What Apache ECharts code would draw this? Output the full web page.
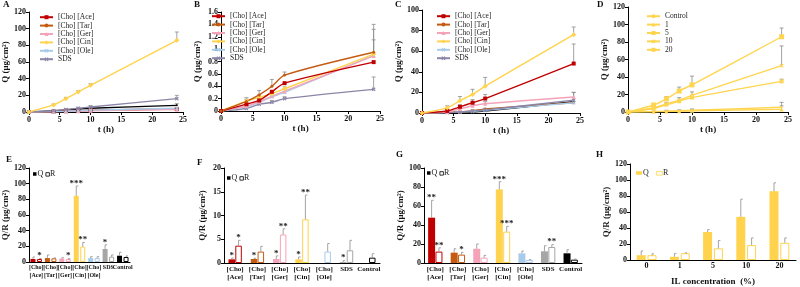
<!DOCTYPE html>
<html><head><meta charset="utf-8">
<script src="https://cdn.jsdelivr.net/npm/echarts@6/dist/echarts.min.js"></script>
<style>html,body{margin:0;padding:0;background:#fff}#c{width:800px;height:287px}</style>
</head><body><div id="c"></div>
<script>
// ---------- DATA ----------
const times = [0, 4, 6, 8, 10, 24];
const ilNames = ['[Cho] [Ace]', '[Cho] [Tar]', '[Cho] [Ger]', '[Cho] [Cin]', '[Cho] [Ole]', 'SDS'];
const concNames = ['Control', '1', '5', '10', '20'];
const barCats = ['[Cho]\n[Ace]', '[Cho]\n[Tar]', '[Cho]\n[Ger]', '[Cho]\n[Cin]', '[Cho]\n[Ole]', 'SDS', 'Control'];
const hCats = ['0', '1', '5', '10', '20'];

// Panel A
const aAce = [0, 0.5, 1, 1.5, 2, 3.5];
const aTar = [0, 0.5, 1, 1.5, 2, 4];
const aGer = [0, 0.3, 0.6, 1, 1.5, 3];
const aCin = [0, 8.5, 16, 24, 32, 86];
const aOle = [0, 0.5, 1, 1.5, 2.2, 4.5];
const aSds = [0, 1.5, 3, 4.5, 6, 16];
const aCtrl = [0, 1.5, 2.5, 3.5, 4.5, 8];
const aCinErr = [0, 1, 1.5, 1.5, 2, 10];
const aSdsErr = [0, 0.5, 1, 1, 1.5, 4];
const aCtrlErr = [0, 0.3, 0.5, 0.5, 1, 2];
// Panel B
const bAce = [0, 0.11, 0.17, 0.31, 0.45, 0.79];
const bTar = [0, 0.155, 0.26, 0.40, 0.58, 0.95];
const bGer = [0, 0.08, 0.15, 0.24, 0.32, 0.89];
const bCin = [0, 0.16, 0.22, 0.28, 0.36, 0.92];
const bOle = [0, 0.07, 0.14, 0.23, 0.30, 0.90];
const bSds = [0, 0.04, 0.11, 0.14, 0.20, 0.35];
const bTarErr = [0, 0.06, 0.07, 0.11, 0.05, 0.45];
const bCinErr = [0, 0.03, 0.04, 0.05, 0.03, 0.40];
const bGerErr = [0, 0.02, 0.03, 0.04, 0.03, 0.26];
const bSdsErr = [0, 0.02, 0.03, 0.03, 0.03, 0.20];
// Panel C
const cAce = [0, 2, 6, 10, 14, 48];
const cTar = [0, 0.5, 1, 2, 4, 10];
const cGer = [0, 1, 4, 7, 9, 15.5];
const cCin = [0, 5, 12, 18, 26, 76];
const cOle = [0, 0.5, 1, 1.5, 2.5, 10];
const cSds = [0, 0.5, 1, 2, 3, 12.5];
const cCtrl = [0, 0.3, 0.6, 1, 2, 11];
const cAceErr = [0, 1, 2, 3, 4, 19];
const cCinErr = [0, 2, 4, 5, 8.6, 7.5];
const cGerErr = [0, 0.5, 1, 1.5, 2, 4.5];
const cSdsErr = [0, 0.3, 0.5, 1, 1.5, 7.5];
// Panel D
const dCtrl = [0, 0.5, 1, 1.5, 2, 5.5];
const d1 = [0, 0.3, 0.5, 1, 1.5, 3];
const d5 = [0, 4, 8.5, 12.3, 16.5, 35];
const d10 = [0, 5, 9, 13.4, 19, 53];
const d20 = [0, 8, 15, 24, 31, 86];
const dCtrlErr = [0, 0.5, 1, 1, 1.5, 5.5];
const d1Err = [0, 0.3, 0.5, 0.5, 1, 4];
const d5Err = [0, 0.5, 1, 1, 1.5, 2.5];
const d10Err = [0, 1, 2, 3, 4, 22.5];
const d20Err = [0, 1.5, 2.5, 4.5, 10, 10];
// Panel E
const eQ = [3.8, 5, 4.3, 84.5, 5, 16.6, 8];
const eQerr = [2.6, 4, 1.2, 12.5, 1.8, 5.4, 4.4];
const eR = [3.8, 4.7, 3.8, 19.6, 5, 6.8, 6.4];
const eRerr = [0.6, 0.5, 0.5, 5.4, 1.8, 2.2, 1.3];
const eQstar = ['', '', '', '***', '', '*', ''];
const eRstar = ['*', '', '*', '**', '', '', ''];
// Panel F
const fQ = [0.77, 0.84, 0.84, 0.77, 0, 0.2, 0];
const fQerr = [0.28, 0.16, 0.66, 0.49, 0, 0.3, 0];
const fR = [3.65, 2.4, 6.0, 9.2, 2.4, 2.67, 1.12];
const fRerr = [1.12, 1.1, 1.2, 5.1, 1.7, 2.1, 0.84];
const fQstar = ['*', '*', '*', '*', '', '*', ''];
const fRstar = ['*', '', '**', '**', '', '', ''];
// Panel G
const gQ = [47.7, 10.9, 15, 77.5, 10.2, 12.3, 10.2];
const gQerr = [18.3, 4.1, 5, 8.1, 2.4, 5.9, 3.8];
const gR = [12, 8.8, 5.6, 33, 3.2, 16.8, 3.5];
const gRerr = [4, 2.4, 2.4, 5.6, 0.3, 2.5, 0.7];
const gQstar = ['**', '', '', '***', '', '', ''];
const gRstar = ['**', '*', '', '***', '', '**', ''];
// Panel H
const hQ = [6, 4, 35, 54, 86];
const hQerr = [5.3, 4, 3, 22, 10.5];
const hR = [6, 8.5, 14.6, 18.6, 21.5];
const hRerr = [1.7, 0.5, 9.7, 9, 6.1];

// ---------- STYLE ----------
const FONT = '"Liberation Serif","Times New Roman",serif';
const C_ACE = '#c00000', C_TAR = '#c55a11', C_GER = '#f4a3b8', C_CIN = '#ffd34d',
      C_OLE = '#a9cbea', C_SDSL = '#8a86a8', C_SDSB = '#a6a6a6', C_CTRL = '#000000', C_D = '#ffd54f';
const barCols = [C_ACE, C_TAR, C_GER, C_CIN, C_OLE, C_SDSB, C_CTRL];
const hCols = [C_CIN, C_CIN, C_CIN, C_CIN, C_CIN];
const ERR = '#8c8c8c';

const grids = [
  {left: 27, top: 12, width: 156, height: 100},
  {left: 221, top: 12, width: 159, height: 99},
  {left: 422, top: 10, width: 158, height: 103},
  {left: 628, top: 7, width: 160, height: 105},
  {left: 29, top: 168, width: 101, height: 94},
  {left: 224, top: 168, width: 156, height: 95},
  {left: 424, top: 168, width: 158, height: 95},
  {left: 630, top: 164, width: 166, height: 99}
];

const lblStyle = {fontFamily: FONT, fontWeight: 'bold', fontSize: 8, color: '#111'};
const nameStyle = {fontFamily: FONT, fontWeight: 'bold', fontSize: 9, color: '#111'};
const axLine = {show: true, lineStyle: {color: '#000', width: 1}};

const xAxes = [], yAxes = [];
const yMax = [120, 1.6, 100, 120, 120, 20, 100, 120];
const yInt = [20, 0.2, 20, 20, 20, 5, 20, 20];
const catFont = [0, 0, 0, 0, 6, 7, 7, 8];
for (let g = 0; g < 8; g++) {
  if (g < 4) {
    xAxes.push({gridIndex: g, type: 'value', min: 0, max: 25, interval: 5,
      axisLine: axLine, axisTick: {show: true, length: 3, lineStyle: {color: '#000'}},
      axisLabel: Object.assign({margin: 4}, lblStyle), splitLine: {show: false},
      name: 't (h)', nameLocation: 'middle', nameGap: 13, nameTextStyle: nameStyle});
  } else {
    xAxes.push({gridIndex: g, type: 'category', data: g === 7 ? hCats : barCats,
      axisLine: axLine, axisTick: {show: false},
      axisLabel: Object.assign({margin: 2, interval: 0, lineHeight: g === 4 ? 7.5 : 8}, lblStyle, {fontSize: catFont[g]}),
      name: g === 7 ? 'IL concentration  (%)' : '', nameLocation: 'middle', nameGap: 17, nameTextStyle: nameStyle});
  }
  yAxes.push({gridIndex: g, type: 'value', min: 0, max: yMax[g], interval: yInt[g],
    axisLine: axLine, axisTick: {show: true, length: 3, lineStyle: {color: '#000'}},
    axisLabel: Object.assign({margin: 3}, lblStyle), splitLine: {show: false},
    name: g < 4 ? 'Q (μg/cm²)' : 'Q/R (μg/cm²)', nameLocation: 'middle', nameRotate: 90,
    nameGap: g === 1 ? 19 : 17, nameTextStyle: nameStyle});
}

const XSYM = 'path://M2,0L5,3L8,0L10,2L7,5L10,8L8,10L5,7L2,10L0,8L3,5L0,2Z';
function lineS(g, name, arr, color, symbol, size) {
  return {type: 'line', name, xAxisIndex: g, yAxisIndex: g,
    data: times.map((t, i) => [t, arr[i]]), smooth: 0.25,
    symbol, symbolSize: size, showSymbol: true,
    lineStyle: {color, width: 1.4}, itemStyle: {color}, z: 3, animation: false};
}
function lineErr(g, arr, err) {
  return {type: 'custom', xAxisIndex: g, yAxisIndex: g, silent: true, animation: false, z: 2,
    data: times.map((t, i) => [t, arr[i], arr[i] + err[i]]),
    renderItem: (params, api) => {
      const i = params.dataIndex;
      if (!(err[i] > 0)) return null;
      const p0 = api.coord([times[i], arr[i]]);
      const p1 = api.coord([times[i], arr[i] + err[i]]);
      return {type: 'group', children: [
        {type: 'line', shape: {x1: p0[0], y1: p0[1], x2: p1[0], y2: p1[1]}, style: {stroke: ERR, lineWidth: 0.8}},
        {type: 'line', shape: {x1: p1[0] - 2, y1: p1[1], x2: p1[0] + 2, y2: p1[1]}, style: {stroke: ERR, lineWidth: 0.8}}
      ]};
    }};
}
function barS(g, name, vals, cols, open, w, gapPct) {
  return {type: 'bar', name, xAxisIndex: g, yAxisIndex: g, barWidth: w, barGap: gapPct + '%', animation: false,
    data: vals.map((v, i) => ({value: v, itemStyle: open ? {color: '#fff', borderColor: cols[i], borderWidth: 1} : {color: cols[i]}}))};
}
function barErr(g, vals, errs, stars, sign, w, gapPct) {
  return {type: 'custom', xAxisIndex: g, yAxisIndex: g, silent: true, animation: false, z: 5,
    data: vals.map((v, i) => [i, v + errs[i]]),
    renderItem: (params, api) => {
      const i = params.dataIndex;
      const c = api.coord([i, vals[i]]);
      const t = api.coord([i, vals[i] + errs[i]]);
      const x = c[0] + sign * (w + w * gapPct / 100) / 2;
      const ch = [];
      if (errs[i] > 0) {
        ch.push({type: 'line', shape: {x1: x, y1: c[1], x2: x, y2: t[1]}, style: {stroke: ERR, lineWidth: 0.8}});
        ch.push({type: 'line', shape: {x1: x, y1: t[1], x2: x + 2, y2: t[1]}, style: {stroke: ERR, lineWidth: 0.8}});
      }
      if (stars && stars[i]) {
        ch.push({type: 'text', x: x, y: t[1] + 2, style: {text: stars[i], fill: '#222',
          font: 'bold 9px ' + FONT, textAlign: 'center', textVerticalAlign: 'bottom', align: 'center', verticalAlign: 'bottom'}});
      }
      return {type: 'group', children: ch};
    }};
}

const series = [];
// A
const setsA = [[aAce, C_ACE, 'rect', 4], [aTar, C_TAR, 'circle', 3], [aGer, C_GER, 'triangle', 4],
  [aOle, C_OLE, XSYM, 4], [aSds, C_SDSL, XSYM, 4]];
series.push(lineS(0, 'ctrlA', aCtrl, C_CTRL, 'circle', 2));
setsA.forEach((s, k) => series.push(lineS(0, ilNames[[0, 1, 2, 4, 5][k]], s[0], s[1], s[2], s[3])));
series.push(lineS(0, ilNames[3], aCin, C_CIN, 'diamond', 5));
series.push(lineErr(0, aCin, aCinErr), lineErr(0, aSds, aSdsErr), lineErr(0, aCtrl, aCtrlErr));
// B
series.push(lineS(1, ilNames[5], bSds, C_SDSL, XSYM, 4));
series.push(lineS(1, ilNames[4], bOle, C_OLE, XSYM, 4));
series.push(lineS(1, ilNames[2], bGer, C_GER, 'triangle', 4));
series.push(lineS(1, ilNames[3], bCin, C_CIN, 'diamond', 5));
series.push(lineS(1, ilNames[0], bAce, C_ACE, 'rect', 4));
series.push(lineS(1, ilNames[1], bTar, C_TAR, 'circle', 3));
series.push(lineErr(1, bTar, bTarErr), lineErr(1, bCin, bCinErr), lineErr(1, bGer, bGerErr), lineErr(1, bSds, bSdsErr));
// C
series.push(lineS(2, 'ctrlC', cCtrl, C_CTRL, 'circle', 2));
series.push(lineS(2, ilNames[1], cTar, C_TAR, 'circle', 3));
series.push(lineS(2, ilNames[4], cOle, C_OLE, XSYM, 4));
series.push(lineS(2, ilNames[5], cSds, C_SDSL, XSYM, 4));
series.push(lineS(2, ilNames[2], cGer, C_GER, 'triangle', 4));
series.push(lineS(2, ilNames[0], cAce, C_ACE, 'rect', 4));
series.push(lineS(2, ilNames[3], cCin, C_CIN, 'diamond', 5));
series.push(lineErr(2, cAce, cAceErr), lineErr(2, cCin, cCinErr), lineErr(2, cGer, cGerErr), lineErr(2, cSds, cSdsErr));
// D
series.push(lineS(3, concNames[0], dCtrl, C_D, 'circle', 2));
series.push(lineS(3, concNames[1], d1, C_D, 'triangle', 4));
series.push(lineS(3, concNames[2], d5, C_D, 'rect', 4));
series.push(lineS(3, concNames[3], d10, C_D, XSYM, 4));
series.push(lineS(3, concNames[4], d20, C_D, 'rect', 5));
series.push(lineErr(3, dCtrl, dCtrlErr), lineErr(3, d1, d1Err), lineErr(3, d5, d5Err), lineErr(3, d10, d10Err), lineErr(3, d20, d20Err));
// E
series.push(barS(4, 'EQ', eQ, barCols, false, 5, 30), barS(4, 'ER', eR, barCols, true, 5, 30));
series.push(barErr(4, eQ, eQerr, eQstar, -1, 5, 30), barErr(4, eR, eRerr, eRstar, 1, 5, 30));
// F
series.push(barS(5, 'FQ', fQ, barCols, false, 6.5, 5), barS(5, 'FR', fR, barCols, true, 6.5, 5));
series.push(barErr(5, fQ, fQerr, fQstar, -1, 6.5, 5), barErr(5, fR, fRerr, fRstar, 1, 6.5, 5));
// G
series.push(barS(6, 'GQ', gQ, barCols, false, 7, 5), barS(6, 'GR', gR, barCols, true, 7, 5));
series.push(barErr(6, gQ, gQerr, gQstar, -1, 7, 5), barErr(6, gR, gRerr, gRstar, 1, 7, 5));
// H
series.push(barS(7, 'HQ', hQ, hCols, false, 9, 20), barS(7, 'HR', hR, hCols, true, 9, 20));
series.push(barErr(7, hQ, hQerr, null, -1, 9, 20), barErr(7, hR, hRerr, null, 1, 9, 20));

const legTxt = {fontFamily: FONT, fontSize: 7.5, color: '#222', lineHeight: 8.4};
function leg(left, top, data) {
  return {data, left, top, orient: 'vertical', itemWidth: 13, itemHeight: 5, itemGap: 0,
    padding: 0, textStyle: legTxt, selectedMode: false};
}

function barLegend(x, y, fill, sw, sh, gap) {
  return [
    {type: 'rect', left: x, top: y - sh / 2, shape: {width: sw, height: sh}, style: {fill: fill}},
    {type: 'text', left: x + sw + 1, top: y - 4.5, style: {text: 'Q', font: '8px ' + FONT, fill: '#222'}},
    {type: 'rect', left: x + sw + gap, top: y - sh / 2, shape: {width: sw, height: sh}, style: {fill: '#fff', stroke: fill, lineWidth: 0.8}},
    {type: 'text', left: x + 2 * sw + gap + 1, top: y - 4.5, style: {text: 'R', font: '8px ' + FONT, fill: '#222'}}
  ];
}
const letters = [['A', 3, 5], ['B', 194, 5], ['C', 395, 5], ['D', 597, 5], ['E', 6, 160], ['F', 197, 163], ['G', 396, 155], ['H', 596, 155]];
const graphics = letters.map(l => ({type: 'text', left: l[1], top: l[2] - 5,
  style: {text: l[0], font: 'bold 9px ' + FONT, fill: '#111'}}))
  .concat(barLegend(33, 174, '#000', 3.5, 3.5, 9))
  .concat(barLegend(227, 178, '#000', 3.5, 3.5, 9))
  .concat(barLegend(427, 173, '#000', 3.5, 3.5, 9))
  .concat(barLegend(636, 173, C_CIN, 6, 3.5, 14));

const chart = echarts.init(document.getElementById('c'), null, {renderer: 'canvas'});
chart.setOption({
  animation: false,
  backgroundColor: '#fff',
  grid: grids,
  xAxis: xAxes,
  yAxis: yAxes,
  legend: [leg(39, 13, ilNames), leg(211, 12, ilNames), leg(436, 12, ilNames), leg(646, 12, concNames)],
  graphic: graphics,
  series
});
</script></body></html>
